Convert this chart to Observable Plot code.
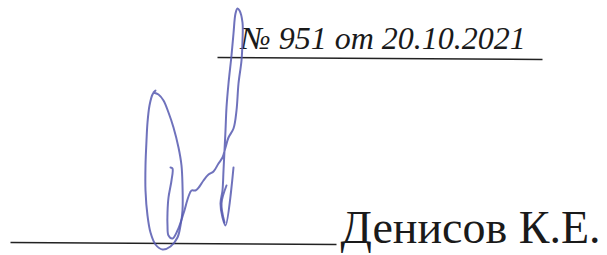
<!DOCTYPE html>
<html><head><meta charset="utf-8">
<script src="https://cdn.jsdelivr.net/npm/d3@7"></script>
<script src="https://cdn.jsdelivr.net/npm/@observablehq/plot@0.6"></script>
<style>body{margin:0;background:#fff}</style>
</head><body><div id="chart"></div>
<script>
// text labels
const labelText = ["№ 951 от 20.10.2021", "Денисов К.Е."];
const labelX = [240, 340];
const labelY = [38, 228];
// underline rules
const ruleX1 = [217, 10];
const ruleY1 = [57, 242];
const ruleX2 = [542, 336];
const ruleY2 = [59, 244];
// signature strokes (traced), one id per point
const strokeId = [
  0,0,0,0,0,0,0,0,0,0,0,0,0,0,0,0,0,0,0,0,0,0,0,0,
  1,1,1,1,1,1,1,1,1,1,1,1,1,1,1,1,1,1,1,1,1,1,1,1,1,1,1,1,1,1,1,1,1,1,1,1,1,1,1,1,1,1,
  2,2,2,2
];
const sigX = [
  153,158,163,168,173,178,181,182,182,180,177,170,162,155,150,147,145,145,146,147,149,152,155,153,
  170,172,171,168,167,167,168,172,177,183,188,191,195,199,203,208,213,218,222,225,228,233,236,238,241,242,242,239,237,235,233,231,228,226,225,224,223,222,220,222,225,
  233,226,221,224
];
const sigY = [
  92,94,100,112,127,147,165,185,210,225,237,246,249,244,232,215,190,165,140,122,105,94,90,92,
  167,168,180,197,212,225,235,238,230,213,196,190,190,186,180,174,171,163,157,147,137,128,110,83,60,40,22,10,8,13,33,55,83,107,130,150,170,190,203,217,225,
  167,185,203,222
];

const labels = labelText.map((t, i) => ({t, x: labelX[i], y: labelY[i], i}));
const rules = ruleX1.map((x1, i) => ({x1, y1: ruleY1[i], x2: ruleX2[i], y2: ruleY2[i]}));
const sig = sigX.map((x, i) => ({x, y: sigY[i], z: strokeId[i]}));
const serif = "'Liberation Serif', 'Times New Roman', serif";

const chart = Plot.plot({
  width: 607, height: 255,
  margin: 0,
  x: {domain: [0, 607], axis: null},
  y: {domain: [0, 255], reverse: true, axis: null},
  style: {background: "#fff"},
  marks: [
    Plot.link(rules, {x1: "x1", y1: "y1", x2: "x2", y2: "y2", stroke: "#222", strokeWidth: 1.6}),
    Plot.text(labels.filter(d => d.i === 0), {x: "x", y: "y", text: "t", textAnchor: "start", lineAnchor: "middle",
      fontFamily: serif, fontStyle: "italic", fontSize: 32, fill: "#1a1a1a"}),
    Plot.text(labels.filter(d => d.i === 1), {x: "x", y: "y", text: "t", textAnchor: "start", lineAnchor: "middle",
      fontFamily: serif, fontSize: 46, fill: "#1a1a1a"}),
    Plot.line(sig, {x: "x", y: "y", z: "z", curve: "catmull-rom", stroke: "#5659b0", strokeWidth: 2, strokeOpacity: 0.85})
  ]
});
document.getElementById("chart").append(chart);
</script>
</body></html>
